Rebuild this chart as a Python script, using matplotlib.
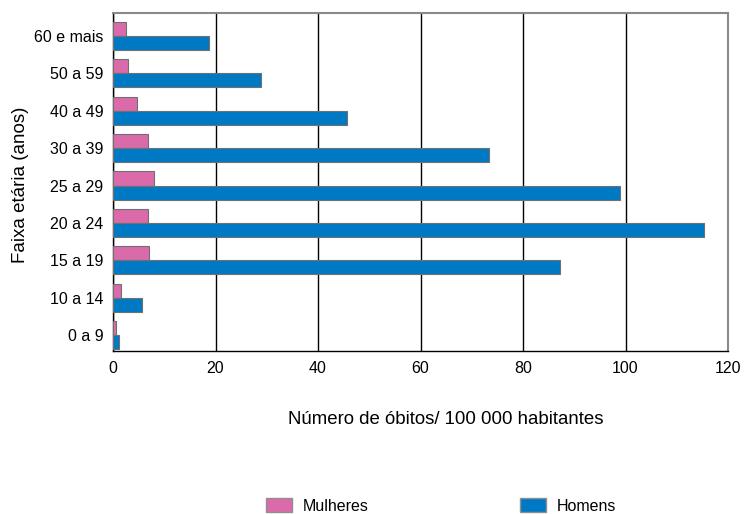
import numpy as np
import matplotlib.pyplot as plt
from matplotlib.patches import Patch

plt.rcParams['font.family'] = ['Liberation Sans', 'DejaVu Sans']

# age groups, bottom to top
faixas = ['0 a 9', '10 a 14', '15 a 19', '20 a 24', '25 a 29',
          '30 a 39', '40 a 49', '50 a 59', '60 e mais']
mulheres = [0.6, 1.6, 7.1, 6.9, 7.9, 6.9, 4.6, 2.9, 2.6]
homens = [1.1, 5.6, 87.2, 115.3, 98.9, 73.3, 45.6, 28.8, 18.8]
xticks = [0, 20, 40, 60, 80, 100, 120]

rosa = '#da6aaa'
azul = '#0079c4'

fig = plt.figure(figsize=(7.5, 5.14), dpi=100)
ax = fig.add_axes([0.1507, 0.3171, 0.82, 0.6576])

y = np.arange(len(faixas))
h = 0.375
ax.barh(y + h / 2, mulheres, height=h, color=rosa, edgecolor='#707070', linewidth=0.8, zorder=3)
ax.barh(y - h / 2, homens, height=h, color=azul, edgecolor='#707070', linewidth=0.8, zorder=3)

ax.set_xlim(0, 120)
ax.set_ylim(-0.428, 8.615)
ax.set_xticks(xticks)
ax.set_xticklabels([str(t) for t in xticks], fontsize=11.5)
ax.set_yticks(y)
ax.set_yticklabels(faixas, fontsize=11.5)
ax.tick_params(axis='both', length=0)
ax.tick_params(axis='y', pad=7)
ax.tick_params(axis='x', pad=7)

ax.grid(axis='x', color='black', linewidth=1, zorder=1)
ax.grid(axis='y', visible=False)
for s in ['left', 'bottom']:
    ax.spines[s].set_color('black')
    ax.spines[s].set_linewidth(1)
for s in ['top', 'right']:
    ax.spines[s].set_color('#8a8a8a')
    ax.spines[s].set_linewidth(1.5)

ax.set_xlabel('Número de óbitos/ 100 000 habitantes', fontsize=13.4)
ax.xaxis.set_label_coords(0.541, -0.178)
ax.set_ylabel('Faixa etária (anos)', fontsize=13.5)
ax.yaxis.set_label_coords(-0.137, 0.491)

handles = [Patch(facecolor=rosa, edgecolor='#909090', label='Mulheres'),
           Patch(facecolor=azul, edgecolor='#909090', label='Homens')]
fig.legend(handles=handles, loc='center left', bbox_to_anchor=(258 / 750, 1 - 506 / 514),
           ncol=2, frameon=False, borderpad=0, fontsize=11.5, handlelength=1.6,
           handleheight=1.0, handletextpad=0.7, columnspacing=9.5)

fig.savefig('out.png', dpi=100)
